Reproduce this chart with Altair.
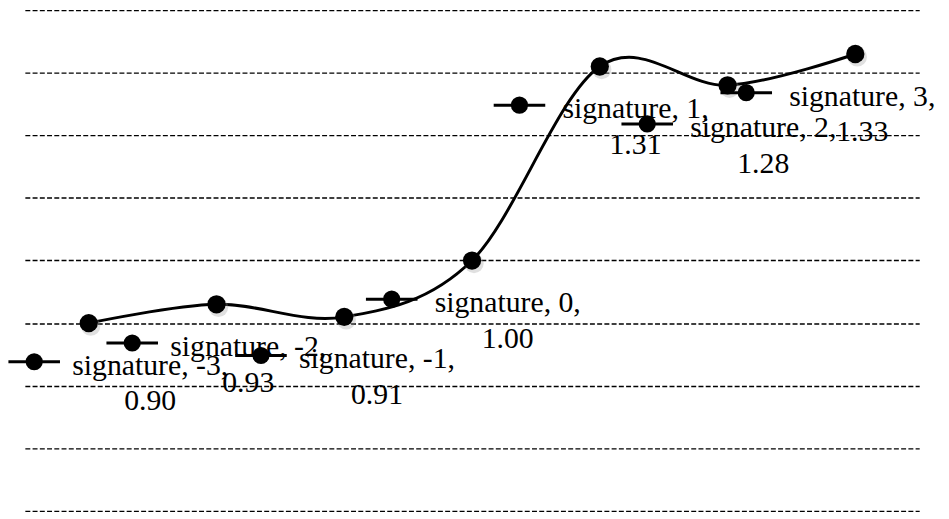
import altair as alt
import pandas as pd

# data
series_name = "signature"
x_vals = [-3, -2, -1, 0, 1, 2, 3]
y_vals = [0.90, 0.93, 0.91, 1.00, 1.31, 1.28, 1.33]
grid_vals = [0.6, 0.7, 0.8, 0.9, 1.0, 1.1, 1.2, 1.3, 1.4]

# label layout (pixel shift of each data label block)
label_shift = [26, -4, -3, 0, 0, 0, -29]

W, H = 902, 505
XDOM = [-3.5, 3.5]
YDOM = [0.6, 1.4]
PXX = W / (XDOM[1] - XDOM[0])
PXY = H / (YDOM[1] - YDOM[0])

df = pd.DataFrame({"series": series_name, "x": x_vals, "y": y_vals, "shift": label_shift})

xs = alt.Scale(domain=XDOM, nice=False, zero=False)
ys = alt.Scale(domain=YDOM, nice=False, zero=False)

AX = alt.Axis(values=grid_vals, grid=True, gridDash=[5, 2.3],
              gridColor="black", gridWidth=1.4, gridOpacity=1,
              domain=False, ticks=False, labels=False, title=None)

base = alt.Chart(df).transform_calculate(
    kx=f"datum.x + (-81 + datum.shift) / {PXX}",
    ky=f"datum.y - 39 / {PXY}",
    tx=f"datum.x + (36 + datum.shift) / {PXX}",
    ty=f"datum.y - 52 / {PXY}",
    sx=f"datum.x + 2 / {PXX}",
    sy=f"datum.y - 3 / {PXY}",
    label="[datum.series + ', ' + datum.x + ',', format(datum.y, '.2f')]",
)

def ex(f):
    return alt.X(f"{f}:Q", scale=xs, axis=None)

def ey(f):
    return alt.Y(f"{f}:Q", scale=ys, axis=AX)

line = base.mark_line(interpolate="cardinal", color="black", strokeWidth=3).encode(x=ex("x"), y=ey("y"))

shadow = base.mark_circle(size=380, color="#999", opacity=0.3).encode(x=ex("sx"), y=ey("sy"))

pts = base.mark_circle(size=340, color="black", opacity=1).encode(x=ex("x"), y=ey("y"))

key_line = base.mark_point(shape="M-1,0H1", size=2704, filled=False, color="black",
                           strokeWidth=3, opacity=1).encode(x=ex("kx"), y=ey("ky"))

key_dot = base.mark_circle(size=300, color="black", opacity=1).encode(x=ex("kx"), y=ey("ky"))

labels = base.mark_text(font="Liberation Serif", fontSize=30, align="center",
                        baseline="alphabetic", lineHeight=36, color="black").encode(
    x=ex("tx"), y=ey("ty"), text="label:N")

chart = alt.layer(line, shadow, pts, key_line, key_dot, labels).properties(
    width=W, height=H,
    autosize=alt.AutoSizeParams(type="none"),
    padding={"left": 17, "top": 0, "right": 22, "bottom": 6},
).configure(background="white").configure_view(stroke="transparent", strokeWidth=0)

chart.save("out.html", embed_options={"renderer": "svg", "actions": False})
